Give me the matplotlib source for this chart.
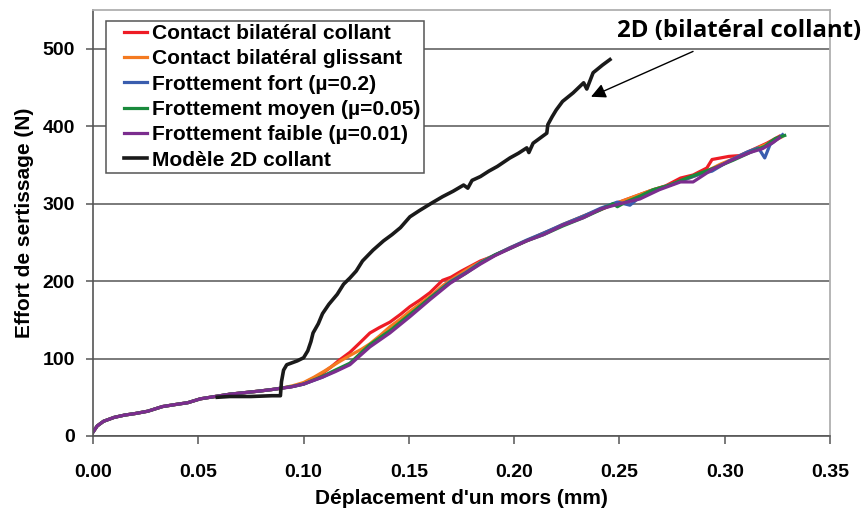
import numpy as np
import matplotlib
matplotlib.use("Agg")
import matplotlib.pyplot as plt
from matplotlib.legend_handler import HandlerLine2D

plt.rcParams['font.family'] = ['Liberation Sans', 'DejaVu Sans']
plt.rcParams['font.weight'] = 'bold'

# shared start of the 3D curves
x_base = [0.0, 0.002, 0.005, 0.01, 0.015, 0.02, 0.026, 0.033, 0.04, 0.045, 0.051,
          0.058, 0.065, 0.072, 0.079, 0.085, 0.09]
y_base = [5, 13, 19, 24, 27, 29, 32, 38, 41, 43, 48, 51, 54, 56, 58, 60, 62]

# Contact bilateral collant
x_red = x_base + [0.095, 0.1, 0.105, 0.109, 0.113, 0.117, 0.122, 0.127, 0.1315, 0.136,
                  0.141, 0.146, 0.1505, 0.155, 0.16, 0.166, 0.17, 0.175, 0.184, 0.19,
                  0.198, 0.205, 0.214, 0.222, 0.233, 0.24, 0.249, 0.257, 0.264, 0.272,
                  0.279, 0.285, 0.2915, 0.294, 0.302, 0.307, 0.312, 0.32, 0.326]
y_red = y_base + [64, 68, 75, 81, 89, 98, 108, 121, 133, 140, 147, 157, 167, 175, 185,
                  201, 205, 213, 226, 232, 243, 251, 262, 271, 284, 291, 301, 309, 316,
                  323, 333, 337, 346, 357, 361, 362, 368, 378, 387]

# Contact bilateral glissant
x_orange = x_base + [0.095, 0.1, 0.105, 0.11, 0.117, 0.122, 0.1275, 0.1315, 0.136, 0.141,
                     0.146, 0.1505, 0.155, 0.16, 0.1665, 0.172, 0.18, 0.188, 0.196, 0.205,
                     0.214, 0.223, 0.233, 0.241, 0.249, 0.258, 0.266, 0.274, 0.281, 0.29,
                     0.298, 0.306, 0.314, 0.321, 0.327]
y_orange = y_base + [65, 69, 76, 84, 96, 104, 112, 119, 129, 141, 151, 161, 170, 180, 195,
                     205, 219, 230, 240, 251, 261, 273, 284, 293, 301, 310, 318, 324, 331,
                     340, 351, 360, 370, 378, 386]

# Frottement fort
x_blue = x_base + [0.095, 0.1, 0.109, 0.115, 0.122, 0.1315, 0.141, 0.1505, 0.16, 0.1695,
                   0.177, 0.184, 0.191, 0.198, 0.206, 0.214, 0.223, 0.233, 0.241, 0.249,
                   0.255, 0.259, 0.266, 0.274, 0.281, 0.288, 0.294, 0.302, 0.311, 0.316,
                   0.319, 0.3215, 0.3275]
y_blue = y_base + [64, 67, 76, 84, 93, 117, 135, 156, 178, 199, 211, 224, 234, 243, 253,
                   262, 273, 284, 294, 302, 298, 307, 317, 324, 331, 338, 342, 355, 367,
                   372, 359, 376, 389]

# Frottement moyen
x_green = x_base + [0.095, 0.1, 0.109, 0.115, 0.122, 0.1315, 0.141, 0.1505, 0.16, 0.1695,
                    0.177, 0.184, 0.191, 0.198, 0.206, 0.214, 0.223, 0.233, 0.241, 0.247,
                    0.249, 0.253, 0.26, 0.266, 0.274, 0.281, 0.289, 0.296, 0.304, 0.312,
                    0.319, 0.324, 0.3285]
y_green = y_base + [64, 67, 77, 85, 94, 118, 136, 157, 178, 198, 210, 223, 234, 242, 252,
                    260, 271, 282, 292, 300, 296, 302, 310, 318, 324, 332, 340, 347, 356,
                    366, 374, 384, 388]

# Frottement faible
x_purple = x_base + [0.0935, 0.1, 0.109, 0.115, 0.122, 0.1315, 0.141, 0.1505, 0.16, 0.1695,
                     0.177, 0.184, 0.191, 0.198, 0.206, 0.214, 0.223, 0.233, 0.241, 0.249,
                     0.2597, 0.269, 0.279, 0.285, 0.294, 0.304, 0.312, 0.318, 0.323, 0.326]
y_purple = y_base + [63, 67, 76, 83, 92, 115, 133, 154, 176, 197, 210, 222, 233, 242, 252,
                     260, 272, 282, 293, 299, 306, 318, 328, 328, 344, 357, 366, 371, 379,
                     385]

# Modele 2D collant
x_black = [0.059, 0.065, 0.075, 0.085, 0.089, 0.0895, 0.0905, 0.092, 0.095, 0.097, 0.1,
           0.102, 0.1035, 0.1045, 0.107, 0.109, 0.112, 0.116, 0.119, 0.122, 0.125, 0.128,
           0.133, 0.138, 0.142, 0.146, 0.1505, 0.155, 0.158, 0.161, 0.166, 0.171, 0.176,
           0.178, 0.18, 0.184, 0.188, 0.192, 0.198, 0.202, 0.206, 0.207, 0.209, 0.211,
           0.2155, 0.216, 0.218, 0.22, 0.223, 0.228, 0.233, 0.2345, 0.2375, 0.242, 0.2455]
y_black = [50, 51, 51, 52, 52, 70, 85, 92, 95, 97, 101, 110, 122, 133, 145, 158, 170, 183,
           196, 204, 213, 226, 240, 252, 260, 269, 283, 291, 296, 301, 309, 316, 324, 320,
           330, 335, 342, 348, 359, 365, 372, 366, 378, 382, 391, 402, 412, 421, 432, 443,
           456, 448, 469, 479, 486]

labels = ["Contact bilatéral collant", "Contact bilatéral glissant",
          "Frottement fort (µ=0.2)", "Frottement moyen (µ=0.05)",
          "Frottement faible (µ=0.01)", "Modèle 2D collant"]
colors = ["#ee1c25", "#f47a20", "#3a5dae", "#1a8a3c", "#7b2d8e", "#1a1a1a"]


# legend line drawn only on the right part of the handle box (wider left margin)
class RightLine(HandlerLine2D):
    def get_xdata(self, legend, xdescent, ydescent, width, height, fontsize):
        x0 = -xdescent + 0.4 * width
        x1 = -xdescent + width
        return [x0, x1], [x0, x1]


W, H = 865, 509
fig = plt.figure(figsize=(W / 100, H / 100), dpi=100)
ax = fig.add_axes([93 / W, 73 / H, (830 - 93) / W, (436 - 10) / H])

series = [(x_red, y_red), (x_orange, y_orange), (x_blue, y_blue),
          (x_green, y_green), (x_purple, y_purple), (x_black, y_black)]
for (xs, ys), c, lab in zip(series, colors, labels):
    lw = 2.6 if c == "#1a1a1a" else 2.3
    ax.plot(xs, ys, color=c, lw=lw, label=lab, solid_joinstyle='round')

ax.set_xlim(0, 0.35)
ax.set_ylim(0, 550)
ax.set_xticks(np.arange(0, 0.351, 0.05))
ax.set_yticks(np.arange(0, 501, 100))
ax.set_xticklabels([f"{v:.2f}" for v in np.arange(0, 0.351, 0.05)])
ax.yaxis.grid(True, color="#707070", lw=1.3)
ax.set_axisbelow(True)

for s in ["top", "right"]:
    ax.spines[s].set_color("#b0b0b0")
    ax.spines[s].set_linewidth(1.3)
for s in ["left", "bottom"]:
    ax.spines[s].set_color("#555555")
    ax.spines[s].set_linewidth(1.2)

ax.tick_params(axis="x", direction="out", length=6, width=1.1, color="#555555",
               labelsize=14, pad=14)
ax.tick_params(axis="y", direction="out", length=5, width=1.1, color="#555555",
               labelsize=14, pad=8)

ax.set_xlabel("Déplacement d'un mors (mm)", fontsize=15, fontweight="bold", labelpad=6)
ax.set_ylabel("Effort de sertissage (N)", fontsize=15, fontweight="bold", labelpad=6)

leg = ax.legend(loc="upper left", bbox_to_anchor=(106 / W, 1 - 21 / H),
                bbox_transform=fig.transFigure, borderaxespad=0, fontsize=15.1,
                handlelength=1.8, handletextpad=0.25, labelspacing=0.3,
                borderpad=0.15, fancybox=False, framealpha=1, edgecolor="#555555",
                handler_map={plt.Line2D: RightLine()})
leg.get_frame().set_linewidth(1.1)
for t in leg.get_texts():
    t.set_fontweight("bold")

ax.annotate("2D (bilatéral collant)", xy=(0.2365, 438), xycoords="data",
            xytext=(739, H - 31), textcoords="figure pixels",
            ha="center", va="center", fontsize=17.3, fontweight="bold",
            family=["Open Sans", "DejaVu Sans"], annotation_clip=False,
            arrowprops=dict(arrowstyle="-|>", color="black", lw=1.0,
                            mutation_scale=22, shrinkA=10, shrinkB=0))

fig.savefig("out.png", dpi=100)
